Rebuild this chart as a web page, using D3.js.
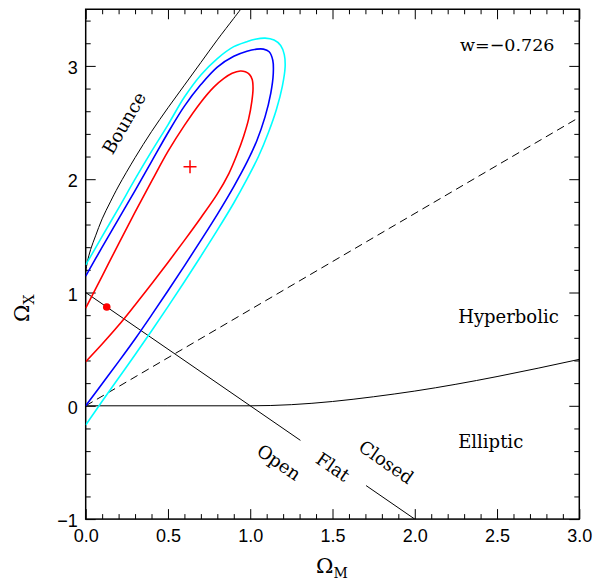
<!DOCTYPE html>
<html><head><meta charset="utf-8">
<script src="https://cdn.jsdelivr.net/npm/d3@7"></script>
<style>body{margin:0;background:#fff}svg{display:block}</style>
</head><body>
<svg id="c" width="594" height="582"></svg>
<script>
// ---------- data (Omega_M, Omega_X) ----------
const xMajor = [0, 0.5, 1.0, 1.5, 2.0, 2.5, 3.0];
const yMajor = [-1, 0, 1, 2, 3];
const wValue = "w=\u22120.726";

const redContour = [[0,0.389],[0.1,0.545],[0.2,0.71],[0.3,0.89],[0.4,1.075],[0.5,1.265],[0.6,1.46],[0.7,1.66],[0.8,1.87],[0.87,2.05],[0.92,2.22],[0.96,2.38],[0.99,2.53],[1.01,2.69],[1.017,2.80],[1.012,2.88],[0.995,2.925],[0.97,2.948],[0.94,2.955],[0.89,2.935],[0.84,2.89],[0.78,2.815],[0.7,2.68],[0.6,2.475],[0.5,2.245],[0.4,1.98],[0.3,1.71],[0.2,1.43],[0.1,1.145],[0,0.861]];
const blueContour = [[0,0],[0.1,0.195],[0.2,0.39],[0.3,0.59],[0.4,0.8],[0.5,1.015],[0.6,1.235],[0.7,1.46],[0.8,1.69],[0.9,1.935],[0.98,2.15],[1.04,2.34],[1.09,2.55],[1.125,2.76],[1.14,2.93],[1.137,3.05],[1.115,3.125],[1.08,3.148],[1.04,3.148],[0.98,3.13],[0.9,3.085],[0.8,2.99],[0.7,2.835],[0.6,2.645],[0.5,2.41],[0.4,2.155],[0.3,1.9],[0.2,1.65],[0.1,1.4],[0,1.145]];
const cyanContour = [[0,-0.169],[0.1,0.04],[0.2,0.245],[0.3,0.45],[0.4,0.66],[0.5,0.875],[0.6,1.095],[0.7,1.32],[0.8,1.55],[0.9,1.79],[0.98,2.0],[1.05,2.2],[1.11,2.41],[1.16,2.62],[1.195,2.82],[1.212,2.99],[1.207,3.10],[1.185,3.18],[1.145,3.228],[1.09,3.245],[1.03,3.235],[0.98,3.214],[0.9,3.17],[0.8,3.065],[0.7,2.92],[0.6,2.725],[0.5,2.48],[0.4,2.245],[0.3,2.0],[0.2,1.745],[0.1,1.495],[0,1.243]];
const bounceCurve = [[0,1.18],[0.01,1.27],[0.03,1.38],[0.06,1.50],[0.1,1.65],[0.15,1.80],[0.2,1.94],[0.3,2.19],[0.4,2.42],[0.5,2.63],[0.6,2.83],[0.7,3.03],[0.8,3.23],[0.9,3.42],[0.95,3.515]];
const recollapseCurve = [[0,0],[0.5,0],[1.0,0],[1.25,0.01],[1.5,0.038],[1.75,0.08],[2.0,0.13],[2.25,0.19],[2.5,0.258],[2.75,0.332],[3.0,0.41]];
const accelLine = [[0,0],[3.0,2.546]];
const flatLineA = [[0,1],[1.305,-0.305]];
const flatLineB = [[1.704,-0.704],[2.0,-1.0]];
const bestFit = [0.634, 2.11];
const flatPoint = [0.128, 0.872];

const regionLabels = [
  {text:"Hyperbolic", x:2.264, y:0.733, rot:0, anchor:"start"},
  {text:"Elliptic", x:2.264, y:-0.372, rot:0, anchor:"start"},
  {text:"Bounce", x:0.233, y:2.496, rot:-60, anchor:"middle"},
  {text:"Open", x:1.175, y:-0.50, rot:34.6, anchor:"middle"},
  {text:"Flat", x:1.503, y:-0.54, rot:34.6, anchor:"middle"},
  {text:"Closed", x:1.826, y:-0.496, rot:34.6, anchor:"middle"}
];

// ---------- layout ----------
const L = 85.7, R = 579.3, T = 9.25, B = 519.1;
const svg = d3.select("#c");
const x = d3.scaleLinear().domain([0, 3]).range([L, R]);
const y = d3.scaleLinear().domain([-1, 3.5]).range([B, T]);

svg.append("defs").append("clipPath").attr("id","clip")
  .append("rect").attr("x",L).attr("y",T).attr("width",R-L).attr("height",B-T);

const xMinor = d3.range(0, 3.0001, 0.1).filter(v => Math.abs(v*2 - Math.round(v*2)) > 1e-6);
const yMinor = d3.range(-1, 3.5001, 0.2).filter(v => Math.abs(v - Math.round(v)) > 1e-6);

const tickFont = "'Liberation Sans', Arial, sans-serif";
function styleAxis(g){ g.select(".domain").remove(); g.selectAll("line").attr("stroke","#000").attr("stroke-width",1); }

// bottom
svg.append("g").attr("transform",`translate(0,${B})`)
  .call(d3.axisBottom(x).tickValues(xMajor).tickSize(-10).tickPadding(10).tickFormat(d3.format(".1f")))
  .call(styleAxis)
  .call(g => g.selectAll("text").attr("font-family",tickFont).attr("font-size",18).attr("fill","#000"));
svg.append("g").attr("transform",`translate(0,${B})`)
  .call(d3.axisBottom(x).tickValues(xMinor).tickSize(-5).tickFormat(""))
  .call(styleAxis);
// top
svg.append("g").attr("transform",`translate(0,${T})`)
  .call(d3.axisTop(x).tickValues(xMajor).tickSize(-10).tickFormat(""))
  .call(styleAxis);
svg.append("g").attr("transform",`translate(0,${T})`)
  .call(d3.axisTop(x).tickValues(xMinor).tickSize(-5).tickFormat(""))
  .call(styleAxis);
// left
svg.append("g").attr("transform",`translate(${L},0)`)
  .call(d3.axisLeft(y).tickValues(yMajor).tickSize(-10).tickPadding(8).tickFormat(d => d < 0 ? "\u2212" + Math.abs(d) : String(d)))
  .call(styleAxis)
  .call(g => g.selectAll("text").attr("font-family",tickFont).attr("font-size",18).attr("fill","#000").attr("dy","0.42em"));
svg.append("g").attr("transform",`translate(${L},0)`)
  .call(d3.axisLeft(y).tickValues(yMinor).tickSize(-5).tickFormat(""))
  .call(styleAxis);
// right
svg.append("g").attr("transform",`translate(${R},0)`)
  .call(d3.axisRight(y).tickValues(yMajor).tickSize(-10).tickFormat(""))
  .call(styleAxis);
svg.append("g").attr("transform",`translate(${R},0)`)
  .call(d3.axisRight(y).tickValues(yMinor).tickSize(-5).tickFormat(""))
  .call(styleAxis);

// frame
svg.append("rect").attr("x",L).attr("y",T).attr("width",R-L).attr("height",B-T)
  .attr("fill","none").attr("stroke","#000").attr("stroke-width",1.5);

const plot = svg.append("g").attr("clip-path","url(#clip)");
const lineS = d3.line().x(d => x(d[0])).y(d => y(d[1]));
const lineC = d3.line().x(d => x(d[0])).y(d => y(d[1])).curve(d3.curveCatmullRom.alpha(0.5));
const lineM = d3.line().x(d => x(d[0])).y(d => y(d[1])).curve(d3.curveMonotoneX);

plot.append("path").attr("d", lineS(accelLine)).attr("fill","none").attr("stroke","#000").attr("stroke-width",1).attr("stroke-dasharray","8,5");
plot.append("path").attr("d", lineM(recollapseCurve)).attr("fill","none").attr("stroke","#000").attr("stroke-width",1);
plot.append("path").attr("d", lineS(flatLineA)).attr("fill","none").attr("stroke","#000").attr("stroke-width",1);
plot.append("path").attr("d", lineS(flatLineB)).attr("fill","none").attr("stroke","#000").attr("stroke-width",1);
plot.append("path").attr("d", lineC(bounceCurve)).attr("fill","none").attr("stroke","#000").attr("stroke-width",1);

[[cyanContour,"#00ffff"],[blueContour,"#0000ff"],[redContour,"#ff0000"]].forEach(([c,col]) => {
  plot.append("path").attr("d", lineC(c)).attr("fill","none").attr("stroke",col).attr("stroke-width",1.6);
});

// best fit cross
const cx = x(bestFit[0]), cy = y(bestFit[1]);
plot.append("path").attr("d",`M${cx-6.5},${cy}H${cx+6.5}M${cx},${cy-6.5}V${cy+6.5}`)
  .attr("stroke","#ff0000").attr("stroke-width",1.5);
plot.append("circle").attr("cx",x(flatPoint[0])).attr("cy",y(flatPoint[1])).attr("r",3.8).attr("fill","#ff0000");

// labels
const labFont = "'DejaVu Serif', serif";
regionLabels.forEach(l => {
  const t = svg.append("text").attr("font-family",labFont).attr("font-size",18).attr("fill","#000")
    .attr("text-anchor",l.anchor).text(l.text);
  if (l.rot === 0) {
    t.attr("x",x(l.x)).attr("y",y(l.y));
  } else {
    t.attr("dy","0.35em").attr("transform",`translate(${x(l.x)},${y(l.y)}) rotate(${l.rot})`);
  }
});
svg.append("text").attr("x",x(2.275)).attr("y",y(3.134)).attr("font-family",labFont)
  .attr("font-size",17.5).attr("fill","#000").text(wValue);

// axis titles
const xt = svg.append("text").attr("x",316).attr("y",573).attr("font-family",labFont).attr("font-size",21).attr("fill","#000");
xt.append("tspan").text("\u03A9");
xt.append("tspan").attr("font-size",14).attr("dy",5).text("M");
const yt = svg.append("text").attr("transform","translate(29,322) rotate(-90)").attr("font-family",labFont).attr("font-size",21).attr("fill","#000");
yt.append("tspan").text("\u03A9");
yt.append("tspan").attr("font-size",14).attr("dy",5).text("X");
</script>
</body></html>
